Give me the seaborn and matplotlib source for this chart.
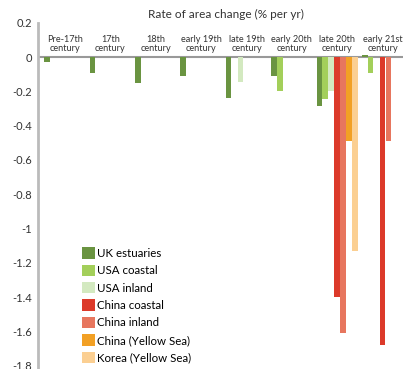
import numpy as np
import pandas as pd
import matplotlib
matplotlib.use("Agg")
import matplotlib.pyplot as plt
import seaborn as sns

# Categories and series values (rate of area change, % per yr)
periods = ["Pre-17th\ncentury", "17th\ncentury", "18th\ncentury", "early 19th\ncentury",
           "late 19th\ncentury", "early 20th\ncentury", "late 20th\ncentury", "early 21st\ncentury"]
uk_estuaries = [-0.03, -0.09, -0.15, -0.11, -0.24, -0.11, -0.285, 0.01]
usa_coastal = [np.nan, np.nan, np.nan, np.nan, np.nan, -0.20, -0.245, -0.09]
usa_inland = [np.nan, np.nan, np.nan, np.nan, -0.145, np.nan, -0.20, np.nan]
china_coastal = [np.nan, np.nan, np.nan, np.nan, np.nan, np.nan, -1.40, -1.68]
china_inland = [np.nan, np.nan, np.nan, np.nan, np.nan, np.nan, -1.61, -0.49]
china_yellow = [np.nan, np.nan, np.nan, np.nan, np.nan, np.nan, -0.49, np.nan]
korea_yellow = [np.nan, np.nan, np.nan, np.nan, np.nan, np.nan, -1.13, np.nan]

series = {
    "UK estuaries": uk_estuaries,
    "USA coastal": usa_coastal,
    "USA inland": usa_inland,
    "China coastal": china_coastal,
    "China inland": china_inland,
    "China (Yellow Sea)": china_yellow,
    "Korea (Yellow Sea)": korea_yellow,
}
colors = ["#6a9441", "#a3cf5a", "#d3e9c0", "#dc3a2a", "#e7765e", "#f2a024", "#fbcf92"]

rows = []
for name, vals in series.items():
    for p, v in zip(periods, vals):
        rows.append({"period": p, "series": name, "value": v})
df = pd.DataFrame(rows)

plt.rcParams["font.family"] = ["Lato", "DejaVu Sans"]

fig = plt.figure(figsize=(4.03, 3.69), dpi=100)
ax = fig.add_axes([0.094, 0.0, 0.906, 0.938])

sns.barplot(data=df, x="period", y="value", hue="series", order=periods,
            hue_order=list(series.keys()), palette=colors, width=0.92,
            gap=0.05, errorbar=None, ax=ax, saturation=1)

ax.set_xlim(-0.6, 7.45)
ax.set_ylim(-1.82, 0.2)
ax.set_yticks(np.arange(-1.8, 0.21, 0.2))
ax.set_yticklabels(["-1.8", "-1.6", "-1.4", "-1.2", "-1", "-0.8", "-0.6",
                    "-0.4", "-0.2", "0", "0.2"], fontsize=8, color="#333333")
ax.tick_params(axis="y", length=0, pad=4)
ax.set_xticks([])
ax.set_xlabel("")
ax.set_ylabel("")

for s in ["top", "right", "bottom"]:
    ax.spines[s].set_visible(False)
ax.spines["left"].set_color("#bbbbbb")
ax.spines["left"].set_linewidth(2)
ax.axhline(0, color="#999999", linewidth=1.5, zorder=0)

for i, p in enumerate(periods):
    ax.text(i, 0.025, p, ha="center", va="bottom", fontsize=6.6, color="#333333",
            linespacing=1.05)

fig.text(0.56, 0.962, "Rate of area change (% per yr)", ha="center", va="center",
         fontsize=8.5, color="#333333")

ax.legend(loc="upper left", bbox_to_anchor=(0.108, 0.365), frameon=False,
          fontsize=8.3, handlelength=1.15, handleheight=1.15, labelspacing=0.5,
          handletextpad=0.2, borderaxespad=0)

fig.savefig("out.png", dpi=100)
